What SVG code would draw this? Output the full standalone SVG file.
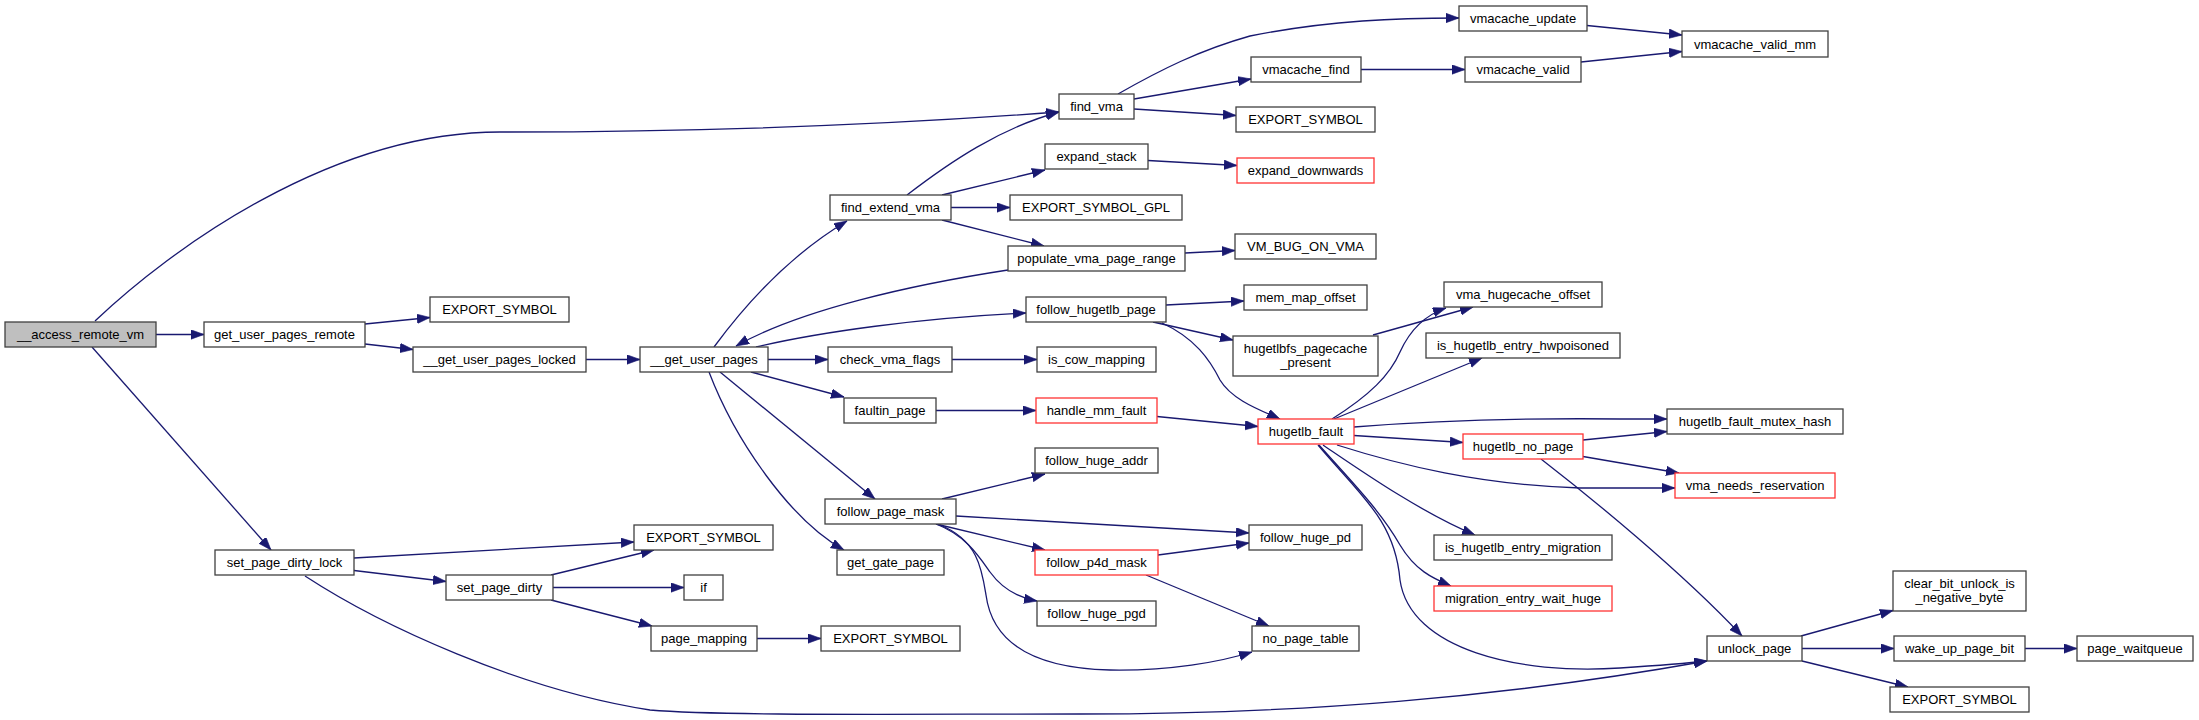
<svg xmlns="http://www.w3.org/2000/svg" width="2199" height="720" viewBox="0 0 2199 720">
<style>
.n rect{fill:#fff;stroke:#404040;stroke-width:1.3}
.n.r rect{stroke:#ff3333}
.n.root rect{fill:#bfbfbf}
.n text{font-family:"Liberation Sans",Arial,sans-serif;font-size:13px;text-anchor:middle;fill:#000}
#edges path{fill:none;stroke:#191970;stroke-width:1.3;marker-end:url(#a)}
</style>
<defs>
<marker id="a" markerUnits="userSpaceOnUse" markerWidth="14" markerHeight="10" refX="13" refY="4.7" orient="auto">
<path d="M0,0 L13,4.7 L0,9.4 z" fill="#191970" stroke="#191970" stroke-width="0.6"/>
</marker>
</defs>
<rect width="2199" height="720" fill="#fff"/>
<g id="edges">
<path d="M95,321 C170,250 330,132 500,132 C700,132 900,124 1059,112"/>
<path d="M156,334.5 L204,334.5"/>
<path d="M92,347 L271,550"/>
<path d="M365,324 L430,317.5"/>
<path d="M365,344 L413,349.5"/>
<path d="M586,359.5 L640,359.5"/>
<path d="M714,347 C745,305 790,255 847,221"/>
<path d="M907,195 C950,162 1000,128 1059,112"/>
<path d="M942,195 L1045,170"/>
<path d="M951,207.5 L1010,207.5"/>
<path d="M942,220 L1044,246"/>
<path d="M1008,270 C910,285 800,310 736,346"/>
<path d="M756,347 C820,332 920,318 1026,313"/>
<path d="M768,359.5 L828,359.5"/>
<path d="M952,359.5 L1037,359.5"/>
<path d="M751,372 L844,397"/>
<path d="M720,372 L875,499"/>
<path d="M709,372 C735,440 790,520 844,550"/>
<path d="M936,410.5 L1036,410.5"/>
<path d="M1157,416.5 L1258,426.5"/>
<path d="M942,499 L1045,474"/>
<path d="M956,516 L1249,533"/>
<path d="M936,524 L1045,550"/>
<path d="M936,524 C965,535 978,555 990,572 C1003,590 1020,598 1037,601"/>
<path d="M940,525 C978,540 982,570 986,595 C992,640 1030,668 1110,670 C1170,671 1220,662 1252,652"/>
<path d="M1158,555 L1249,543"/>
<path d="M1146,575 L1269,626"/>
<path d="M1166,305 L1244,301"/>
<path d="M1153,322 L1233,340"/>
<path d="M1162,323 C1195,338 1210,360 1220,380 C1232,400 1260,410 1280,419"/>
<path d="M1373,335 L1473,307"/>
<path d="M1332,419 C1370,395 1390,375 1400,352 C1410,330 1425,315 1446,308"/>
<path d="M1334,419 L1482,358"/>
<path d="M1354,427 C1430,421 1530,418 1620,419 L1667,419"/>
<path d="M1354,435.5 L1463,442.5"/>
<path d="M1337,445 C1400,465 1480,485 1580,488 L1675,488"/>
<path d="M1323,445 C1360,470 1420,512 1475,535"/>
<path d="M1319,445 C1350,480 1380,510 1400,545 C1415,570 1432,578 1451,586"/>
<path d="M1318,445 C1360,495 1395,520 1400,580 C1410,650 1520,675 1620,668 C1650,666 1680,664 1707,661"/>
<path d="M1583,440 L1667,431.5"/>
<path d="M1583,456.5 L1679,473"/>
<path d="M1541,459 C1590,497 1680,570 1742,636"/>
<path d="M354,558 L634,542"/>
<path d="M354,570.5 L446,581.5"/>
<path d="M305,576 C380,625 520,690 650,710 C720,716 900,714 1080,714 C1300,714 1500,698 1707,661"/>
<path d="M551,575 L654,550"/>
<path d="M553,587.5 L684,587.5"/>
<path d="M551,600 L652,626"/>
<path d="M757,638.5 L821,638.5"/>
<path d="M1118,94 C1160,70 1200,50 1250,36 C1330,20 1400,18 1459,18"/>
<path d="M1134,99 L1251,79"/>
<path d="M1134,109 L1236,115.5"/>
<path d="M1361,69.5 L1465,69.5"/>
<path d="M1587,25.5 L1682,35"/>
<path d="M1581,62 L1682,51.5"/>
<path d="M1148,160.5 L1237,165.5"/>
<path d="M1185,253 L1235,250.5"/>
<path d="M1801,636 L1893,610.5"/>
<path d="M1802,648.5 L1894,648.5"/>
<path d="M1802,661 L1908,687"/>
<path d="M2025,648.5 L2077,648.5"/>
</g>
<g id="n_access" class="n root"><rect x="5" y="322" width="151" height="25"/><text x="80.5" y="339">__access_remote_vm</text></g>
<g id="n_gupr" class="n"><rect x="204" y="322" width="161" height="25"/><text x="284.5" y="339">get_user_pages_remote</text></g>
<g id="n_exp_a" class="n"><rect x="430" y="297" width="139" height="25"/><text x="499.5" y="314">EXPORT_SYMBOL</text></g>
<g id="n_gupl" class="n"><rect x="413" y="347" width="173" height="25"/><text x="499.5" y="364">__get_user_pages_locked</text></g>
<g id="n_gup" class="n"><rect x="640" y="347" width="128" height="25"/><text x="704" y="364">__get_user_pages</text></g>
<g id="n_fev" class="n"><rect x="830" y="195" width="121" height="25"/><text x="890.5" y="212">find_extend_vma</text></g>
<g id="n_find_vma" class="n"><rect x="1059" y="94" width="75" height="25"/><text x="1096.5" y="111">find_vma</text></g>
<g id="n_expand_stack" class="n"><rect x="1045" y="144" width="103" height="25"/><text x="1096.5" y="161">expand_stack</text></g>
<g id="n_exp_gpl" class="n"><rect x="1010" y="195" width="172" height="25"/><text x="1096" y="212">EXPORT_SYMBOL_GPL</text></g>
<g id="n_populate" class="n"><rect x="1008" y="246" width="177" height="25"/><text x="1096.5" y="263">populate_vma_page_range</text></g>
<g id="n_fhp" class="n"><rect x="1026" y="297" width="140" height="25"/><text x="1096" y="314">follow_hugetlb_page</text></g>
<g id="n_cvf" class="n"><rect x="828" y="347" width="124" height="25"/><text x="890" y="364">check_vma_flags</text></g>
<g id="n_iscow" class="n"><rect x="1037" y="347" width="119" height="25"/><text x="1096.5" y="364">is_cow_mapping</text></g>
<g id="n_faultin" class="n"><rect x="844" y="398" width="92" height="25"/><text x="890" y="415">faultin_page</text></g>
<g id="n_handle" class="n r"><rect x="1036" y="398" width="121" height="25"/><text x="1096.5" y="415">handle_mm_fault</text></g>
<g id="n_fha" class="n"><rect x="1035" y="448" width="123" height="25"/><text x="1096.5" y="465">follow_huge_addr</text></g>
<g id="n_fpm" class="n"><rect x="825" y="499" width="131" height="25"/><text x="890.5" y="516">follow_page_mask</text></g>
<g id="n_exp_b" class="n"><rect x="634" y="525" width="139" height="25"/><text x="703.5" y="542">EXPORT_SYMBOL</text></g>
<g id="n_ggp" class="n"><rect x="837" y="550" width="107" height="25"/><text x="890.5" y="567">get_gate_page</text></g>
<g id="n_fp4d" class="n r"><rect x="1035" y="550" width="123" height="25"/><text x="1096.5" y="567">follow_p4d_mask</text></g>
<g id="n_if" class="n"><rect x="684" y="575" width="39" height="25"/><text x="703.5" y="592">if</text></g>
<g id="n_fhpgd" class="n"><rect x="1037" y="601" width="119" height="25"/><text x="1096.5" y="618">follow_huge_pgd</text></g>
<g id="n_pm" class="n"><rect x="651" y="626" width="106" height="25"/><text x="704" y="643">page_mapping</text></g>
<g id="n_exp_c" class="n"><rect x="821" y="626" width="139" height="25"/><text x="890.5" y="643">EXPORT_SYMBOL</text></g>
<g id="n_spdl" class="n"><rect x="215" y="550" width="139" height="25"/><text x="284.5" y="567">set_page_dirty_lock</text></g>
<g id="n_spd" class="n"><rect x="446" y="575" width="107" height="25"/><text x="499.5" y="592">set_page_dirty</text></g>
<g id="n_vu" class="n"><rect x="1459" y="6" width="128" height="25"/><text x="1523" y="23">vmacache_update</text></g>
<g id="n_vf" class="n"><rect x="1251" y="57" width="110" height="25"/><text x="1306" y="74">vmacache_find</text></g>
<g id="n_vv" class="n"><rect x="1465" y="57" width="116" height="25"/><text x="1523" y="74">vmacache_valid</text></g>
<g id="n_exp_d" class="n"><rect x="1236" y="107" width="139" height="25"/><text x="1305.5" y="124">EXPORT_SYMBOL</text></g>
<g id="n_ed" class="n r"><rect x="1237" y="158" width="137" height="25"/><text x="1305.5" y="175">expand_downwards</text></g>
<g id="n_vmbug" class="n"><rect x="1235" y="234" width="141" height="25"/><text x="1305.5" y="251">VM_BUG_ON_VMA</text></g>
<g id="n_mmo" class="n"><rect x="1244" y="285" width="123" height="25"/><text x="1305.5" y="302">mem_map_offset</text></g>
<g id="n_vho" class="n"><rect x="1444" y="282" width="158" height="25"/><text x="1523" y="299">vma_hugecache_offset</text></g>
<g id="n_hpp" class="n"><rect x="1233" y="336" width="145" height="40"/><text x="1305.5" y="352.5">hugetlbfs_pagecache</text><text x="1305.5" y="366.5">_present</text></g>
<g id="n_hwp" class="n"><rect x="1426" y="333" width="194" height="25"/><text x="1523" y="350">is_hugetlb_entry_hwpoisoned</text></g>
<g id="n_vvm" class="n"><rect x="1682" y="31" width="146" height="26"/><text x="1755" y="48.5">vmacache_valid_mm</text></g>
<g id="n_hf" class="n r"><rect x="1258" y="419" width="96" height="25"/><text x="1306" y="436">hugetlb_fault</text></g>
<g id="n_hnp" class="n r"><rect x="1463" y="434" width="120" height="25"/><text x="1523" y="451">hugetlb_no_page</text></g>
<g id="n_fhpd" class="n"><rect x="1249" y="525" width="113" height="25"/><text x="1305.5" y="542">follow_huge_pd</text></g>
<g id="n_mig" class="n"><rect x="1434" y="535" width="178" height="25"/><text x="1523" y="552">is_hugetlb_entry_migration</text></g>
<g id="n_mewh" class="n r"><rect x="1434" y="586" width="178" height="25"/><text x="1523" y="603">migration_entry_wait_huge</text></g>
<g id="n_npt" class="n"><rect x="1252" y="626" width="107" height="25"/><text x="1305.5" y="643">no_page_table</text></g>
<g id="n_mutex" class="n"><rect x="1667" y="409" width="176" height="25"/><text x="1755" y="426">hugetlb_fault_mutex_hash</text></g>
<g id="n_vnr" class="n r"><rect x="1675" y="473" width="160" height="25"/><text x="1755" y="490">vma_needs_reservation</text></g>
<g id="n_unlock" class="n"><rect x="1707" y="636" width="95" height="25"/><text x="1754.5" y="653">unlock_page</text></g>
<g id="n_cb" class="n"><rect x="1893" y="571" width="133" height="40"/><text x="1959.5" y="587.5">clear_bit_unlock_is</text><text x="1959.5" y="601.5">_negative_byte</text></g>
<g id="n_wake" class="n"><rect x="1894" y="636" width="131" height="25"/><text x="1959.5" y="653">wake_up_page_bit</text></g>
<g id="n_pwq" class="n"><rect x="2077" y="636" width="116" height="25"/><text x="2135" y="653">page_waitqueue</text></g>
<g id="n_exp_e" class="n"><rect x="1890" y="687" width="139" height="25"/><text x="1959.5" y="704">EXPORT_SYMBOL</text></g>
</svg>
